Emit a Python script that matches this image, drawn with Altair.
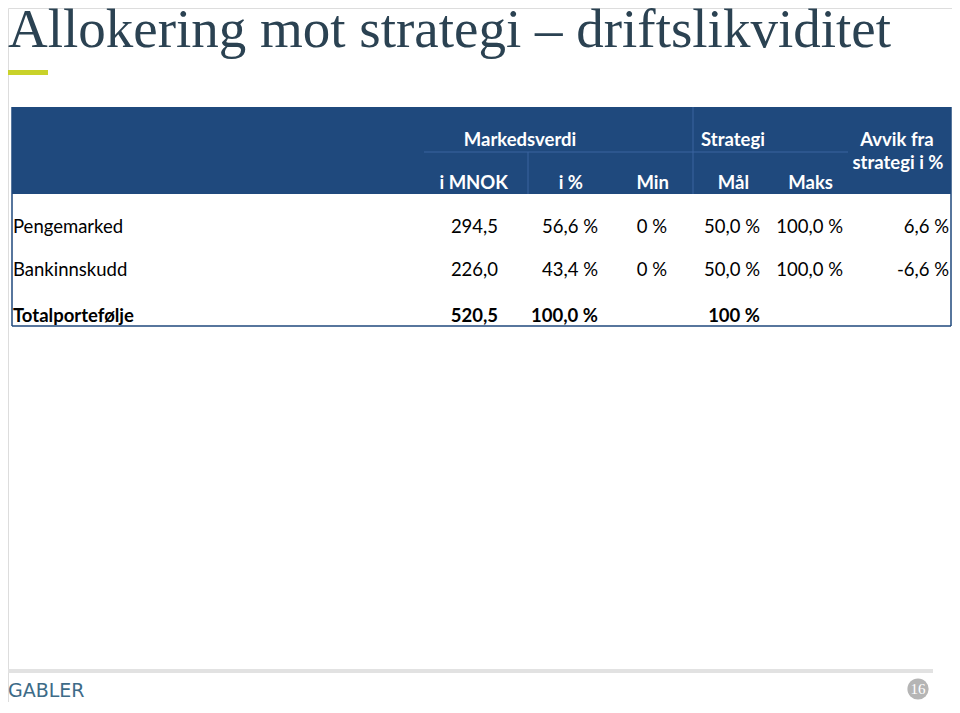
import altair as alt
import pandas as pd

# ---------------- content ----------------
title = "Allokering mot strategi – driftslikviditet"
rows = ["Pengemarked", "Bankinnskudd", "Totalportefølje"]
mnok = [294.5, 226.0, 520.5]
pct = [56.6, 43.4, 100.0]
min_pct = [0, 0, None]
maal_pct = [50.0, 50.0, 100.0]
maal_digits = [1, 1, 0]
maks_pct = [100.0, 100.0, None]
avvik_pct = [6.6, -6.6, None]
group_headers = ["Markedsverdi", "Strategi", "Avvik fra", "strategi i %"]
col_headers = ["i MNOK", "i %", "Min", "Mål", "Maks"]
brand = "GABLER"
page_no = "16"

# ---------------- layout (page pixels) ----------------
W, H = 944, 694
OFF = 8
TX0, TX1 = 12, 951
HY0, HY1, TY1 = 107, 194, 326
col_right = [498, 598, 667, 760, 843, 949]
row_y = [227, 270, 316]
label_x = 13
hdr2_right = [508, 583, 669, 749, 833]
hdr2_y = 183
grp_pos = [(520, 140), (733, 140), (897, 140), (898, 163)]

HEAD_BLUE = "#1F497D"
LINE_BLUE = "#3b64a0"
SANS = "Lato"
FS = 18.5

def fmt(v, d=1, pct_sign=True):
    if v is None:
        return ""
    s = f"{v:.{d}f}".replace(".", ",")
    return s + (" %" if pct_sign else "")

xs = alt.Scale(domain=[OFF, OFF + W], range=[0, W])
ys = alt.Scale(domain=[OFF, OFF + H], range=[0, H])

def X(f="x"):
    return alt.X(f"{f}:Q", scale=xs, axis=None)

def Y(f="y"):
    return alt.Y(f"{f}:Q", scale=ys, axis=None)

# rectangles
rects = pd.DataFrame([
    dict(x=TX0, x2=TX1, y=HY0, y2=HY1, c=HEAD_BLUE),
    dict(x=8, x2=48, y=70, y2=75, c="#c9d22a"),
    dict(x=8, x2=933, y=669, y2=673, c="#e2e2e2"),
])
rect_layer = alt.Chart(rects).mark_rect().encode(
    x=X(), x2="x2:Q", y=Y(), y2="y2:Q",
    color=alt.Color("c:N", scale=None))

# header divider lines
hl = pd.DataFrame([
    dict(x=424, x2=848, y=152, y2=152),
    dict(x=693, x2=693, y=HY0, y2=HY1),
    dict(x=528, x2=528, y=152, y2=HY1),
])
hline_layer = alt.Chart(hl).mark_rule(color=LINE_BLUE, strokeWidth=1).encode(
    x=X(), x2="x2:Q", y=Y(), y2="y2:Q")

# table border
bd = pd.DataFrame([
    dict(x=TX0, x2=TX0, y=HY0, y2=TY1),
    dict(x=TX1, x2=TX1, y=HY0, y2=TY1),
    dict(x=TX0, x2=TX1, y=TY1, y2=TY1),
])
border_layer = alt.Chart(bd).mark_rule(color=HEAD_BLUE, strokeWidth=1.5).encode(
    x=X(), x2="x2:Q", y=Y(), y2="y2:Q")

# header texts
grp = pd.DataFrame([dict(t=t, x=p[0], y=p[1]) for t, p in zip(group_headers, grp_pos)])
grp_layer = alt.Chart(grp).mark_text(font=SANS, fontSize=FS, fontWeight="bold",
                                     color="white", align="center", baseline="middle").encode(
    x=X(), y=Y(), text="t:N")

h2 = pd.DataFrame([dict(t=t, x=x, y=hdr2_y) for t, x in zip(col_headers, hdr2_right)])
h2_layer = alt.Chart(h2).mark_text(font=SANS, fontSize=FS, fontWeight="bold",
                                   color="white", align="right", baseline="middle").encode(
    x=X(), y=Y(), text="t:N")

# body
labels = pd.DataFrame([dict(t=r, x=label_x, y=y, b=(i == 2)) for i, (r, y) in enumerate(zip(rows, row_y))])
cells = []
for i in range(3):
    vals = [fmt(mnok[i], 1, False), fmt(pct[i]), fmt(min_pct[i], 0),
            fmt(maal_pct[i], maal_digits[i]), fmt(maks_pct[i]), fmt(avvik_pct[i])]
    for j, v in enumerate(vals):
        if v:
            cells.append(dict(t=v, x=col_right[j], y=row_y[i], b=(i == 2)))
cells = pd.DataFrame(cells)

lab_reg = alt.Chart(labels[~labels.b]).mark_text(font=SANS, fontSize=FS, color="black",
                                                  align="left", baseline="middle").encode(
    x=X(), y=Y(), text="t:N")
lab_bold = alt.Chart(labels[labels.b]).mark_text(font=SANS, fontSize=FS, fontWeight="bold",
                                                  color="black", align="left", baseline="middle").encode(
    x=X(), y=Y(), text="t:N")
cell_reg = alt.Chart(cells[~cells.b]).mark_text(font=SANS, fontSize=FS, color="black",
                                                 align="right", baseline="middle").encode(
    x=X(), y=Y(), text="t:N")
cell_bold = alt.Chart(cells[cells.b]).mark_text(font=SANS, fontSize=FS, fontWeight="bold",
                                                 color="black", align="right", baseline="middle").encode(
    x=X(), y=Y(), text="t:N")

# title
tdf = pd.DataFrame([dict(t=title, x=8, y=47)])
title_layer = alt.Chart(tdf).mark_text(font="Liberation Serif", fontSize=55, color="#2b4252",
                                       align="left", baseline="alphabetic").encode(
    x=X(), y=Y(), text="t:N")

# footer
fdf = pd.DataFrame([dict(t=brand, x=8, y=691)])
brand_layer = alt.Chart(fdf).mark_text(font="DejaVu Sans", fontSize=19, color="#3d6b88",
                                       align="left", baseline="middle").encode(
    x=X(), y=Y(), text="t:N")
pdf = pd.DataFrame([dict(t=page_no, x=918, y=689)])
circ_layer = alt.Chart(pdf).mark_circle(size=450, color="#b5b5b5", opacity=1).encode(x=X(), y=Y())
pn_layer = alt.Chart(pdf).mark_text(font="Liberation Serif", fontSize=15, color="white",
                                    align="center", baseline="middle").encode(
    x=X(), y=Y(), text="t:N")

chart = alt.layer(
    rect_layer, hline_layer, border_layer, grp_layer, h2_layer,
    lab_reg, lab_bold, cell_reg, cell_bold, title_layer, brand_layer, circ_layer, pn_layer
).properties(width=W, height=H, padding=0, autosize=alt.AutoSizeParams(type="none")
).configure_view(strokeWidth=0, stroke="transparent").configure(background="white")

chart.save("out.html", embed_options={"renderer": "svg", "actions": False})
